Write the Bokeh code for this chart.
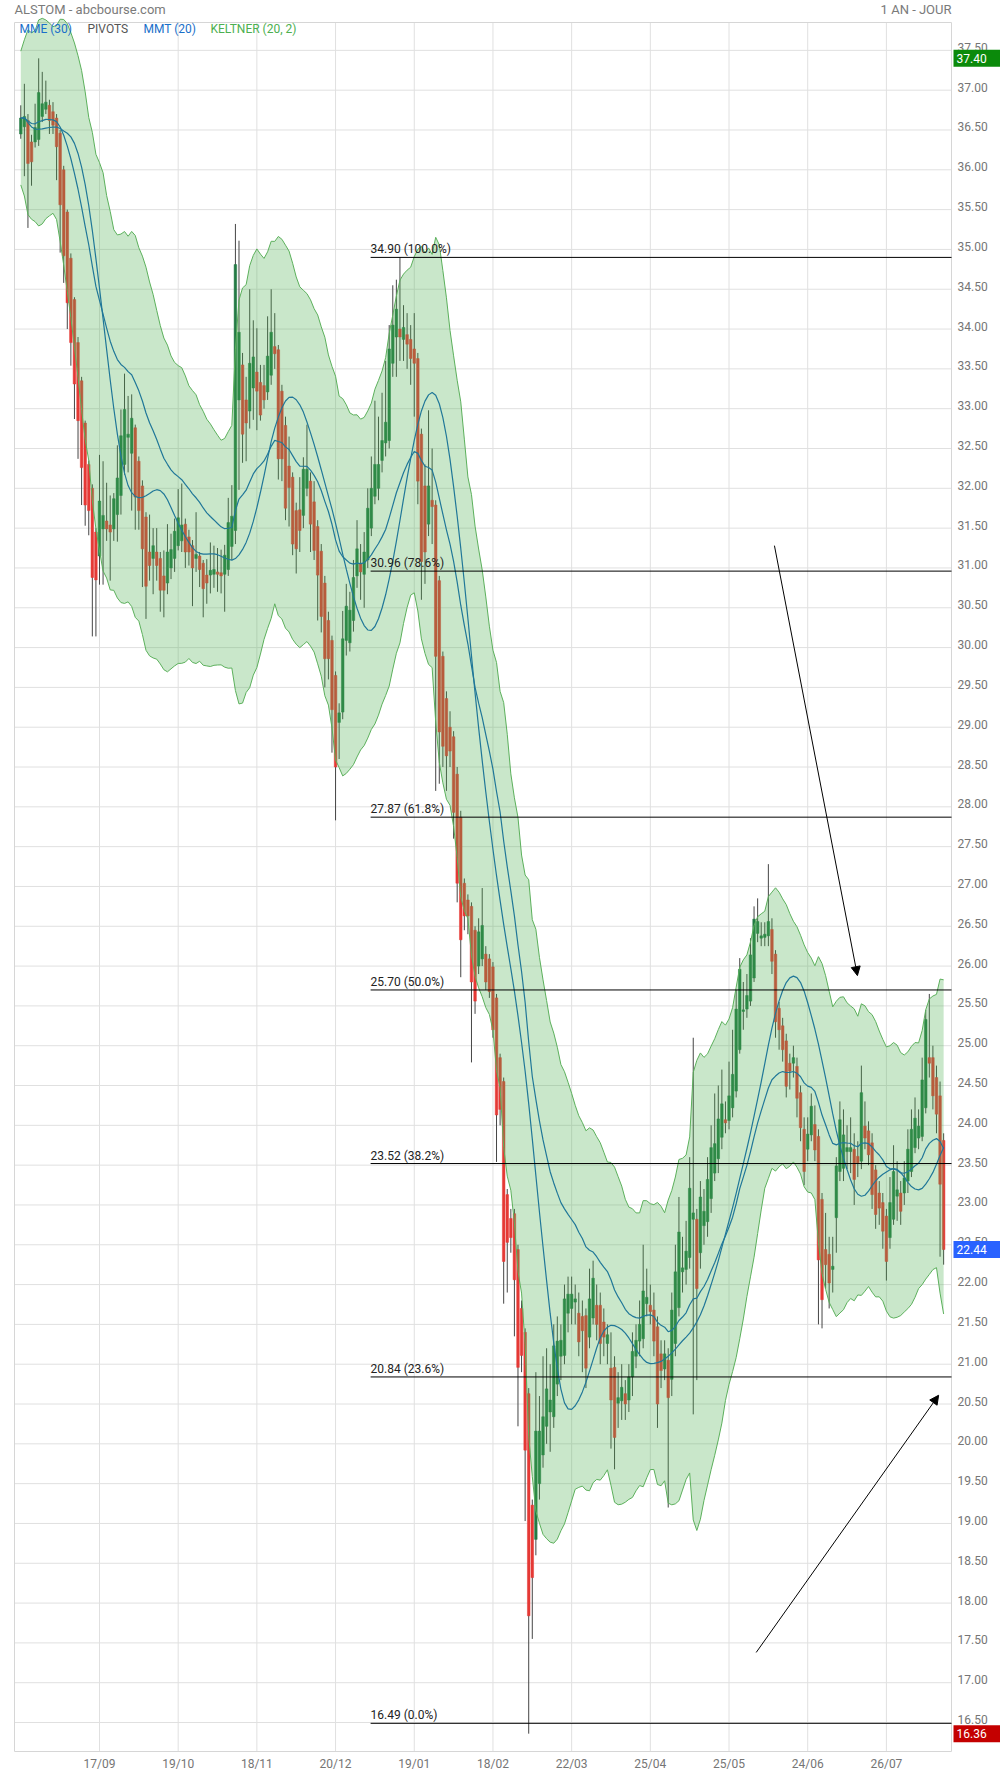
import numpy as np
import pandas as pd
from bokeh.plotting import figure
from bokeh.models import Range1d, Arrow, NormalHead
from bokeh.embed import file_html
from bokeh.resources import INLINE
from bokeh.core.properties import value

# ---------------- data ----------------
opens = [36.45,36.54,36.62,36.35,36.35,36.38,36.67,36.76,36.81,36.73,
36.65,36.46,36.00,35.47,34.89,34.37,33.83,33.35,32.82,32.30,
32.00,31.45,31.15,31.49,31.59,31.54,31.49,31.67,31.91,32.30,
32.64,32.44,32.76,32.34,32.03,31.64,31.20,31.12,31.20,31.12,
30.90,30.81,31.00,31.12,31.28,31.34,31.55,31.39,31.28,31.12,
31.15,31.06,30.91,30.91,30.92,30.95,30.94,30.92,30.98,31.27,
31.47,33.11,33.55,33.11,32.97,33.26,33.46,33.33,33.29,33.21,
33.42,33.78,33.74,33.22,32.79,32.28,32.14,31.72,31.73,31.66,
32.00,32.09,31.83,31.52,31.21,30.81,30.34,30.09,29.65,29.06,
29.19,30.09,30.06,30.34,30.90,31.05,30.92,31.10,31.50,31.90,
32.00,32.35,32.57,32.60,33.57,33.90,34.00,33.87,33.93,33.87,
33.75,33.63,32.68,32.03,31.55,31.85,31.79,30.84,29.89,29.36,
29.00,28.88,28.41,27.87,27.04,26.83,26.75,26.45,26.00,26.09,
26.15,26.09,25.99,25.60,24.85,24.55,23.13,22.83,22.89,22.44,
21.70,21.40,20.63,19.23,18.80,19.50,19.86,20.22,20.40,20.34,
20.75,21.10,21.11,21.64,21.70,21.78,21.64,21.60,21.61,21.34,
21.58,21.74,21.74,21.53,21.26,20.95,20.96,20.51,20.54,20.63,
20.55,20.84,21.10,21.29,21.32,21.76,21.74,21.68,21.47,21.13,
20.94,21.05,20.81,21.26,21.71,22.16,22.19,22.34,22.82,22.82,
22.40,22.74,22.79,23.08,23.40,23.58,23.85,24.07,24.06,24.22,
24.43,24.95,25.43,25.46,25.56,25.85,26.41,26.35,26.36,26.38,
26.46,26.15,25.47,25.25,25.06,24.78,24.78,24.74,24.41,23.95,
23.70,23.88,24.01,23.86,23.07,22.44,22.38,22.19,22.84,23.42,
23.46,23.67,23.67,23.70,23.61,23.55,23.99,23.93,23.78,23.44,
23.15,23.03,22.86,22.59,22.82,23.11,23.15,23.15,23.30,23.42,
23.72,23.84,23.86,24.22,24.85,24.85,24.60,24.37,23.81]

highs = [36.81,37.08,36.70,36.44,36.83,37.40,37.23,37.12,36.88,36.85,
36.70,36.50,36.05,35.50,34.95,34.40,33.90,33.40,32.85,32.35,
32.05,31.50,32.42,32.34,32.07,31.91,31.94,32.54,32.99,33.44,
33.16,33.18,32.80,32.40,32.10,31.70,31.67,31.50,31.50,31.20,
31.22,31.55,31.43,31.62,31.99,32.06,31.62,31.48,31.35,31.70,
31.20,31.10,31.11,31.32,31.28,31.25,31.23,31.29,31.88,32.04,
35.32,35.11,33.70,33.40,34.50,34.11,34.01,33.55,33.55,34.16,
34.50,34.20,33.80,33.30,32.90,32.65,32.20,31.82,32.14,32.39,
32.80,32.20,32.09,31.60,31.30,30.90,30.45,30.15,29.70,29.30,
30.46,30.80,30.70,31.10,31.60,31.30,31.45,32.00,32.40,33.10,
32.90,33.20,33.60,34.05,34.55,34.62,34.90,34.30,34.20,34.05,
34.20,33.70,32.75,32.30,32.98,32.50,31.85,30.90,29.95,29.45,
29.20,28.95,28.50,27.95,27.10,26.90,26.80,26.50,26.60,26.98,
26.25,26.15,26.05,25.65,24.90,24.60,23.20,22.95,22.95,22.50,
21.80,21.45,20.70,19.30,20.90,20.60,21.10,21.20,21.00,21.50,
21.60,21.50,22.00,22.10,22.10,22.00,21.90,21.80,21.70,22.20,
22.30,22.00,21.90,21.70,21.50,21.40,21.10,20.90,21.00,20.80,
21.00,21.40,21.50,21.80,22.50,22.20,22.00,21.90,21.60,21.30,
21.30,21.20,21.90,22.50,23.10,22.60,22.80,23.60,25.10,22.95,
23.30,23.20,23.60,24.00,24.40,24.50,24.70,24.30,24.80,25.20,
25.70,26.10,25.80,25.90,26.35,26.75,26.85,26.55,26.55,27.28,
26.60,26.20,25.55,25.35,25.15,24.90,25.00,24.85,24.50,24.10,
24.10,24.40,24.25,23.95,23.15,22.90,22.60,22.60,23.60,24.30,
24.20,24.00,24.10,23.90,23.80,24.75,24.30,24.05,23.90,23.50,
23.30,23.15,22.95,23.35,23.75,23.55,23.30,23.55,23.95,24.20,
24.35,24.20,24.85,25.45,25.65,25.00,24.75,24.55,23.90]

lows = [36.39,35.92,35.27,35.80,36.28,36.30,36.60,36.70,36.45,36.45,
35.87,34.96,34.58,34.00,33.54,32.87,32.37,31.79,31.53,31.41,
30.14,30.14,30.79,30.79,31.34,30.84,31.34,31.33,31.67,32.17,
32.20,31.72,31.48,31.48,30.76,30.36,30.84,30.67,30.84,30.45,
30.38,30.67,30.86,30.95,31.22,31.20,31.00,31.03,30.52,30.95,
30.76,30.38,30.55,30.68,30.75,30.70,30.68,30.45,30.90,31.10,
31.30,31.98,32.32,32.34,32.75,32.86,32.73,32.85,33.00,33.11,
33.30,33.50,32.11,32.09,31.60,31.52,31.16,30.93,31.20,31.50,
31.90,31.20,31.10,30.34,30.19,29.50,29.60,28.68,27.83,28.60,
29.10,29.90,29.95,30.20,30.75,30.60,30.50,31.00,31.40,31.80,
31.85,32.20,32.40,32.50,33.40,33.40,33.60,33.60,33.50,33.30,
32.90,31.80,30.60,30.80,31.40,31.30,28.20,28.29,28.50,28.20,
28.50,27.60,26.80,25.86,26.45,26.40,24.79,25.40,25.90,26.00,
25.70,25.60,25.10,23.54,24.00,21.76,21.90,22.40,21.35,20.22,
20.90,19.03,16.36,17.55,18.60,19.30,19.70,20.00,19.90,20.20,
20.60,20.80,21.00,21.40,21.50,21.50,21.10,20.90,20.70,21.20,
21.50,21.30,21.00,21.10,21.00,19.94,19.68,20.20,20.30,20.30,
20.40,20.60,20.95,21.10,21.20,21.60,21.50,21.10,20.20,20.70,
20.80,19.20,20.60,21.10,21.60,21.90,22.00,22.20,20.37,20.80,
22.20,22.50,22.60,22.90,23.30,23.40,23.70,23.90,23.95,24.10,
24.35,24.90,25.20,25.35,25.50,25.80,26.30,26.25,26.25,26.25,
25.90,25.10,24.95,24.80,24.35,24.45,24.60,24.10,23.80,23.25,
23.55,23.80,23.55,21.50,21.45,21.95,21.70,21.90,22.40,23.30,
23.30,23.45,23.40,23.00,23.35,23.45,23.70,23.50,22.95,22.70,
22.75,22.45,22.05,22.45,22.75,22.80,22.75,23.00,23.15,23.35,
23.65,23.70,23.80,24.15,24.60,24.20,23.90,22.35,22.25]

closes = [36.65,36.67,36.08,36.10,36.53,36.97,36.83,36.85,36.62,36.56,
36.29,35.56,34.92,34.33,33.83,33.31,32.85,32.26,31.79,31.72,
30.88,30.85,31.84,31.66,31.49,31.45,31.87,32.13,32.66,32.99,
32.68,32.88,31.89,31.72,31.24,30.77,31.03,31.28,31.03,30.72,
30.72,31.20,31.23,31.46,31.63,31.54,31.20,31.20,31.00,31.17,
30.98,30.74,30.81,30.97,30.98,30.92,30.90,31.16,31.57,31.65,
34.81,33.96,32.68,32.82,33.57,33.65,33.22,32.92,33.11,33.66,
33.96,33.69,32.37,32.37,31.75,32.01,31.30,31.24,31.47,32.24,
32.24,31.55,31.22,30.91,30.39,29.86,29.86,29.22,28.50,29.18,
30.11,30.52,30.47,30.88,31.24,30.95,31.20,31.75,32.00,32.30,
32.30,32.60,32.83,33.75,34.05,34.25,33.90,34.02,33.81,33.63,
33.57,32.09,31.08,31.20,32.03,31.77,29.89,28.94,28.76,28.64,
28.70,27.93,27.04,26.33,26.63,26.63,25.80,25.56,26.43,26.51,
25.80,25.68,25.20,24.13,24.20,22.29,22.53,22.59,22.06,20.96,
21.11,19.92,17.84,18.32,20.16,20.16,20.34,20.69,20.55,21.23,
21.29,21.30,21.82,21.88,21.88,21.82,21.28,21.42,20.95,21.82,
22.08,21.50,21.26,21.34,21.37,20.55,20.08,20.58,20.71,20.50,
20.84,21.16,21.30,21.50,21.92,21.84,21.66,21.29,20.50,20.92,
21.13,20.58,21.68,22.16,22.66,22.21,22.42,23.21,22.90,21.95,
23.10,22.92,23.32,23.72,23.77,24.08,24.27,24.03,24.37,24.64,
25.46,25.96,25.45,25.63,26.14,26.59,26.56,26.38,26.40,26.56,
26.06,25.30,25.20,24.95,24.49,24.68,24.85,24.34,23.97,23.42,
23.89,24.24,23.69,22.31,21.81,22.25,22.02,22.23,23.49,24.07,
23.88,23.72,23.72,23.32,23.53,24.41,23.84,23.63,23.13,22.88,
22.96,22.67,22.29,23.03,23.42,23.19,22.92,23.34,23.70,23.95,
24.09,23.99,24.57,25.33,24.78,24.37,24.14,23.26,22.44]

date_ticks = [22, 44, 66, 88, 110, 132, 154, 176, 198, 220, 242]
date_labels = ["17/09", "19/10", "18/11", "20/12", "19/01", "18/02",
               "22/03", "25/04", "25/05", "24/06", "26/07"]

price_ticks = [16.5, 17.0, 17.5, 18.0, 18.5, 19.0, 19.5, 20.0, 20.5, 21.0, 21.5,
               22.0, 22.5, 23.0, 23.5, 24.0, 24.5, 25.0, 25.5, 26.0, 26.5, 27.0,
               27.5, 28.0, 28.5, 29.0, 29.5, 30.0, 30.5, 31.0, 31.5, 32.0, 32.5,
               33.0, 33.5, 34.0, 34.5, 35.0, 35.5, 36.0, 36.5, 37.0, 37.5]

fib_levels = [34.90, 30.96, 27.87, 25.70, 23.52, 20.84, 16.49]
fib_pcts = ["100.0%", "78.6%", "61.8%", "50.0%", "38.2%", "23.6%", "0.0%"]
fib_start = 97.8

arrow_x0 = [210.7, 205.6]
arrow_y0 = [31.28, 17.38]
arrow_x1 = [233.9, 256.6]
arrow_y1 = [25.88, 20.61]

tag_values = [37.40, 22.44, 16.36]
tag_colors = ["#0b8a0b", "#2962ff", "#c40000"]

legend_texts = ["MME (30)", "PIVOTS", "MMT (20)", "KELTNER (20, 2)"]
legend_colors = ["#1a6fc9", "#555555", "#1a6fc9", "#4caf50"]

# ---------------- indicators ----------------
n = len(closes)
idx = np.arange(n)
o = np.array(opens); h = np.array(highs); l = np.array(lows); c = np.array(closes)
cs = pd.Series(c)
mme30 = cs.ewm(span=30, adjust=False).mean()
mmt20 = cs.rolling(10, min_periods=1).mean().rolling(11, min_periods=1).mean()
prev_c = cs.shift(1).fillna(cs.iloc[0])
tr = pd.concat([pd.Series(h - l), (pd.Series(h) - prev_c).abs(),
                (pd.Series(l) - prev_c).abs()], axis=1).max(axis=1)
atr = tr.ewm(span=20, adjust=False).mean()
mid = cs.ewm(span=20, adjust=False).mean()
kup = mid + 2 * atr
klo = mid - 2 * atr

# ---------------- page geometry (pixels) ----------------
W, H = 1000, 1772
PX_L, PX_R, PX_T, PX_B = 14, 951, 22, 1751      # data frame edges
X_L, X_R = -1.76, 260.2                          # index at left / right edge
Y_T, Y_B = 37.85, 16.136                         # price at top / bottom edge
KX = (PX_R - PX_L) / (X_R - X_L)
KY = (PX_B - PX_T) / (Y_T - Y_B)

def xd(px):
    return X_L + (px - PX_L) / KX

def yd(py):
    return Y_T - (py - PX_T) / KY

p = figure(width=W, height=H, output_backend="svg", toolbar_location=None,
           x_range=Range1d(xd(0), xd(W)), y_range=Range1d(yd(H), yd(0)),
           x_axis_location=None, y_axis_location=None,
           min_border=0, min_border_left=0, min_border_right=0,
           min_border_top=0, min_border_bottom=0)
p.outline_line_color = None
p.background_fill_color = "white"
p.border_fill_color = "white"
p.grid.visible = False

FONT = value("Roboto")
GRID = "#e0e0e0"

# grid lines (only inside the data frame)
p.segment(x0=[X_L] * len(price_ticks), y0=price_ticks, x1=[X_R] * len(price_ticks),
          y1=price_ticks, color=GRID, line_width=1)
p.segment(x0=date_ticks, y0=[Y_B] * len(date_ticks), x1=date_ticks,
          y1=[Y_T] * len(date_ticks), color=GRID, line_width=1)
# frame border
p.quad(left=[X_L], right=[X_R], bottom=[Y_B], top=[Y_T], fill_color=None,
       line_color="#d6d6d6", line_width=1)

# candles
up = c >= o
col = np.where(up, "#237a44", "#e53935")
p.segment(x0=idx, y0=l, x1=idx, y1=h, color="#454545", line_width=1)
p.vbar(x=idx, width=0.72, top=np.maximum(o, c), bottom=np.minimum(o, c),
       fill_color=col, line_color=col, line_width=0.5)

# moving averages
p.line(idx, mme30, color="#0d5fb8", line_width=1.2)
p.line(idx, mmt20, color="#0d5fb8", line_width=1.2)

# keltner band (drawn over the candles, translucent)
p.varea(x=idx, y1=klo, y2=kup, fill_color="#4caf50", fill_alpha=0.3)
p.line(idx, kup, color="#5cb05c", line_width=1)
p.line(idx, klo, color="#5cb05c", line_width=1)

# fibonacci levels
nf = len(fib_levels)
p.segment(x0=[fib_start] * nf, y0=fib_levels, x1=[X_R] * nf, y1=fib_levels,
          color="black", line_width=1)
p.text(x=[fib_start] * nf, y=fib_levels,
       text=["%.2f  (%s)" % (v, s) for v, s in zip(fib_levels, fib_pcts)],
       text_font=FONT, text_font_size="12px", text_color="#222222",
       text_baseline="bottom", text_align="left", y_offset=-1)

for xs, ys, xe, ye in zip(arrow_x0, arrow_y0, arrow_x1, arrow_y1):
    p.add_layout(Arrow(end=NormalHead(size=9, fill_color="black", line_color="black"),
                       x_start=xs, y_start=ys, x_end=xe, y_end=ye,
                       line_color="black", line_width=1))

# right price axis labels
p.text(x=[xd(957)] * len(price_ticks), y=price_ticks,
       text=["%.2f" % v for v in price_ticks], text_font=FONT, text_font_size="12px",
       text_color="#757575", text_baseline="middle", text_align="left", y_offset=-3)
# bottom date labels
p.text(x=date_ticks, y=[yd(1763)] * len(date_ticks), text=date_labels,
       text_font=FONT, text_font_size="12px", text_color="#757575",
       text_baseline="middle", text_align="center")

# price tags
p.rect(x=[xd(976.5)] * len(tag_values), y=tag_values, width=47, height=17,
       width_units="screen", height_units="screen", fill_color=tag_colors,
       line_color=None)
p.text(x=[xd(956)] * len(tag_values), y=tag_values,
       text=["%.2f" % v for v in tag_values], text_font=FONT, text_font_size="12px",
       text_color="white", text_baseline="middle", text_align="left")

# title texts
p.text(x=[xd(14)], y=[yd(8.5)], text=["ALSTOM - abcbourse.com"], text_font=FONT,
       text_font_size="13px", text_color="#7a7a7a", text_baseline="middle",
       text_align="left")
p.text(x=[xd(951)], y=[yd(8.5)], text=["1 AN - JOUR"], text_font=FONT,
       text_font_size="13px", text_color="#7a7a7a", text_baseline="middle",
       text_align="right")
# legend texts
p.text(x=[xd(19), xd(87), xd(143), xd(210)], y=[yd(28)] * 4, text=legend_texts,
       text_font=FONT, text_font_size="12px", text_color=legend_colors,
       text_baseline="middle", text_align="left")

open("out.html", "w").write(file_html(p, INLINE))
